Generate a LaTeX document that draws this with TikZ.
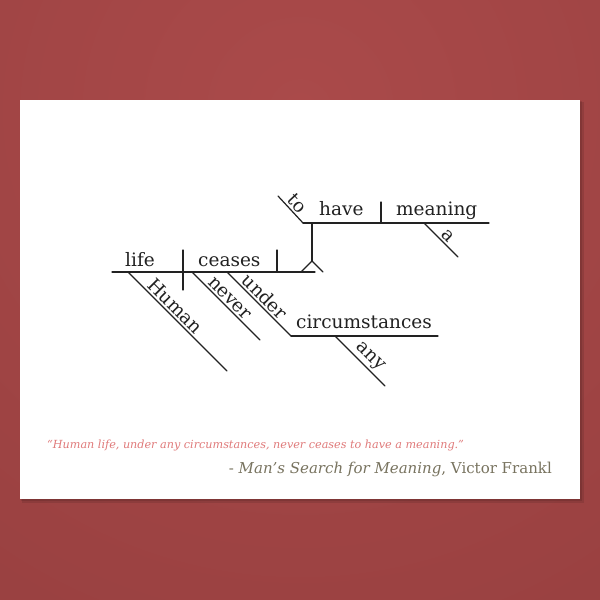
\documentclass[tikz,border=0pt]{standalone}
\usepackage{fontspec}
\setmainfont{DejaVu Serif}
\definecolor{bgout}{HTML}{9A4141}
\definecolor{bgin}{HTML}{AA4A4A}
\definecolor{quotec}{HTML}{E07A7A}
\definecolor{authc}{HTML}{78735F}
\definecolor{ink}{HTML}{222222}
\begin{document}
\begin{tikzpicture}[x=1pt,y=-1pt,
  dline/.style={line width=1.2pt, draw=ink, line cap=round, line join=round},
  lbl/.style={font=\fontsize{18.5}{21}\selectfont, text=ink, inner sep=2pt},
  slbl/.style={font=\fontsize{18.5}{21}\selectfont, text=ink, inner sep=2pt, sloped, above}]
\useasboundingbox (0,0) rectangle (600,600);
% background
\fill[bgout] (0,0) rectangle (600,600);
\shade[inner color=bgin, outer color=bgout] (300,110) circle (560);
% card shadow
\fill[black, opacity=0.10] (22,102) rectangle (584,503);
\fill[black, opacity=0.10] (21,101) rectangle (582,501);
\fill[white] (20,100) rectangle (580,499);
% coordinates
\coordinate (mainL) at (112,272);
\coordinate (mainR) at (315,272);
\coordinate (sdT) at (183,250);
\coordinate (sdB) at (183,290);
\coordinate (odT) at (277,250);
\coordinate (odB) at (277,272);
\coordinate (stT) at (312,223);
\coordinate (stB) at (312,261);
\coordinate (legL) at (301,272);
\coordinate (legR) at (323,272);
\coordinate (upL) at (303,223);
\coordinate (upR) at (489,223);
\coordinate (udT) at (381,202);
\coordinate (udB) at (381,223);
\coordinate (toT) at (278,196);
\coordinate (aT) at (424,223);
\coordinate (aB) at (458,257);
\coordinate (huT) at (128,272);
\coordinate (huB) at (227,371);
\coordinate (neT) at (192,272);
\coordinate (neB) at (260,340);
\coordinate (unT) at (227,272);
\coordinate (unB) at (291,336);
\coordinate (ciR) at (438,336);
\coordinate (anT) at (335,336);
\coordinate (anB) at (385,386);
% lines
\draw[dline] (mainL) -- (mainR);
\draw[dline] (sdT) -- (sdB);
\draw[dline] (odT) -- (odB);
\draw[dline] (stT) -- (stB);
\draw[dline] (legL) -- (stB) -- (legR);
\draw[dline] (upL) -- (upR);
\draw[dline] (udT) -- (udB);
\draw[dline] (toT) -- (upL) node[slbl, pos=0.5] (to) {to};
\draw[dline] (aT) -- (aB) node[slbl, pos=0.53] (a) {a};
\draw[dline] (huT) -- (huB) node[slbl, pos=0.41] (human) {Human};
\draw[dline] (neT) -- (neB) node[slbl, pos=0.47] (never) {never};
\draw[dline] (unT) -- (unB) node[slbl, pos=0.49] (under) {under};
\draw[dline] (unB) -- (ciR);
\draw[dline] (anT) -- (anB) node[slbl, pos=0.56] (any) {any};
% horizontal labels
\node[lbl, anchor=base west] (life) at (123,266) {life};
\node[lbl, anchor=base west] (ceases) at (196,266) {ceases};
\node[lbl, anchor=base west] (have) at (317,215) {have};
\node[lbl, anchor=base west] (meaning) at (394,215) {meaning};
\node[lbl, anchor=base west] (circ) at (294,328) {circumstances};
% quote
\node[anchor=base west, inner sep=0pt, text=quotec, font=\fontsize{11.2}{13}\selectfont\itshape] (quote) at (47,448)
  {“Human life, under any circumstances, never ceases to have a meaning.”};
\node[anchor=base east, inner sep=0pt, text=authc, font=\fontsize{15}{18}\selectfont] (author) at (552,473)
  {- \textit{Man’s Search for Meaning},\ Victor Frankl};
\end{tikzpicture}
\end{document}
